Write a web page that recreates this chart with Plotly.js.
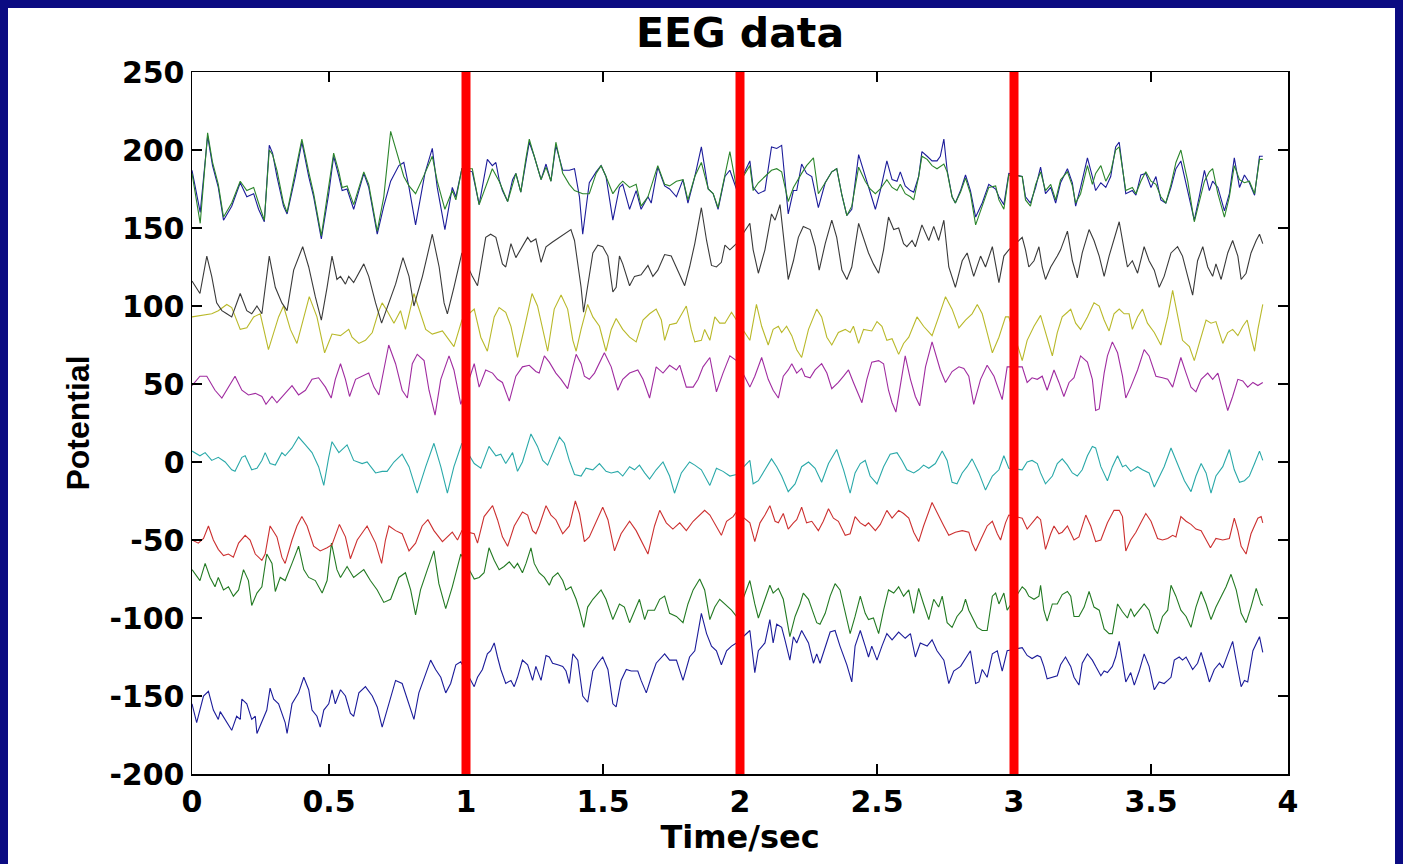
<!DOCTYPE html>
<html>
<head>
<meta charset="utf-8">
<script src="https://cdn.plot.ly/plotly-3.0.1.min.js"></script>
<style>
  html, body { margin:0; padding:0; background:#0b0b82; width:1403px; height:864px; overflow:hidden; }
  #chart { position:absolute; left:8px; top:8px; width:1387px; height:856px; background:#ffffff; }
</style>
</head>
<body>
<div id="chart"></div>
<script>
// ---- data: [time (s), potential] per channel ----
const ch1 = [[0,-155],[0.017,-167],[0.042,-150],[0.06,-147],[0.078,-159],[0.096,-165],[0.103,-160],[0.121,-165],[0.145,-172],[0.163,-163],[0.176,-165],[0.182,-152],[0.2,-155],[0.218,-165],[0.231,-163],[0.237,-174],[0.255,-167],[0.273,-159],[0.285,-145],[0.298,-152],[0.316,-155],[0.34,-167],[0.347,-174],[0.365,-155],[0.389,-148],[0.408,-138],[0.426,-146],[0.438,-159],[0.456,-163],[0.468,-170],[0.481,-159],[0.499,-155],[0.511,-146],[0.523,-155],[0.542,-146],[0.56,-150],[0.578,-161],[0.59,-163],[0.609,-148],[0.633,-144],[0.658,-150],[0.676,-157],[0.694,-170],[0.712,-159],[0.743,-140],[0.767,-142],[0.792,-155],[0.81,-165],[0.828,-148],[0.853,-135],[0.871,-127],[0.889,-133],[0.908,-138],[0.926,-148],[0.944,-142],[0.963,-130],[0.981,-128],
[1.03,-144],[1.042,-138],[1.06,-133],[1.078,-123],[1.09,-121],[1.103,-116],[1.115,-125],[1.127,-133],[1.145,-142],[1.164,-140],[1.176,-144],[1.188,-138],[1.206,-127],[1.225,-130],[1.243,-140],[1.255,-131],[1.274,-140],[1.292,-124],[1.304,-125],[1.316,-129],[1.335,-130],[1.353,-131],[1.365,-134],[1.377,-142],[1.39,-123],[1.408,-127],[1.426,-150],[1.444,-154],[1.463,-134],[1.481,-129],[1.499,-125],[1.518,-133],[1.536,-155],[1.548,-157],[1.566,-140],[1.585,-133],[1.603,-134],[1.627,-134],[1.639,-140],[1.658,-148],[1.676,-138],[1.694,-129],[1.725,-123],[1.743,-127],[1.768,-127],[1.792,-140],[1.816,-125],[1.835,-121],[1.859,-97],[1.878,-110],[1.896,-118],[1.914,-121],[1.932,-130],[1.951,-121],[1.969,-118],[1.987,-116],
[2.036,-108],[2.054,-135],[2.067,-121],[2.091,-116],[2.109,-101],[2.121,-116],[2.134,-104],[2.152,-106],[2.164,-114],[2.182,-127],[2.195,-112],[2.207,-116],[2.225,-108],[2.25,-116],[2.268,-129],[2.28,-123],[2.292,-129],[2.311,-118],[2.329,-109],[2.347,-108],[2.365,-118],[2.39,-130],[2.408,-141],[2.42,-118],[2.439,-108],[2.457,-118],[2.469,-125],[2.481,-118],[2.5,-127],[2.518,-118],[2.536,-110],[2.555,-114],[2.579,-109],[2.603,-113],[2.622,-110],[2.64,-125],[2.658,-116],[2.683,-118],[2.701,-114],[2.719,-121],[2.744,-127],[2.762,-142],[2.78,-134],[2.805,-131],[2.823,-126],[2.841,-121],[2.86,-142],[2.872,-141],[2.884,-133],[2.902,-138],[2.921,-123],[2.939,-121],[2.957,-134],[2.975,-121],
[3.03,-119],[3.048,-124],[3.066,-126],[3.085,-124],[3.097,-125],[3.109,-131],[3.121,-139],[3.14,-138],[3.158,-137],[3.17,-130],[3.188,-125],[3.207,-131],[3.219,-138],[3.237,-143],[3.249,-129],[3.268,-123],[3.286,-127],[3.298,-131],[3.317,-137],[3.329,-134],[3.341,-135],[3.359,-131],[3.371,-125],[3.384,-115],[3.396,-129],[3.408,-141],[3.426,-135],[3.439,-143],[3.457,-134],[3.475,-123],[3.493,-131],[3.512,-146],[3.53,-141],[3.548,-142],[3.561,-140],[3.573,-138],[3.585,-127],[3.603,-125],[3.615,-127],[3.628,-125],[3.64,-129],[3.652,-133],[3.67,-129],[3.683,-122],[3.701,-133],[3.713,-141],[3.731,-133],[3.75,-129],[3.762,-132],[3.78,-123],[3.798,-115],[3.817,-133],[3.829,-144],[3.841,-140],[3.853,-141],[3.872,-121],[3.884,-117],[3.896,-112],[3.908,-122]];

const ch2 = [[0,-69],[0.029,-76],[0.048,-65],[0.066,-74],[0.084,-80],[0.096,-74],[0.115,-82],[0.133,-80],[0.151,-86],[0.17,-82],[0.188,-69],[0.206,-76],[0.218,-92],[0.237,-84],[0.255,-80],[0.273,-59],[0.292,-65],[0.304,-83],[0.322,-74],[0.34,-76],[0.365,-65],[0.389,-54],[0.408,-69],[0.426,-74],[0.45,-76],[0.475,-84],[0.493,-76],[0.509,-52],[0.529,-69],[0.542,-74],[0.566,-67],[0.59,-74],[0.627,-69],[0.651,-76],[0.676,-82],[0.7,-90],[0.725,-88],[0.737,-82],[0.755,-74],[0.779,-71],[0.798,-82],[0.816,-98],[0.834,-82],[0.859,-69],[0.883,-57],[0.901,-78],[0.926,-94],[0.95,-80],[0.981,-59],
[1.03,-75],[1.048,-74],[1.066,-71],[1.084,-55],[1.103,-63],[1.121,-69],[1.139,-67],[1.158,-64],[1.176,-68],[1.188,-65],[1.206,-71],[1.219,-65],[1.237,-55],[1.249,-65],[1.267,-71],[1.286,-74],[1.304,-79],[1.316,-74],[1.335,-71],[1.353,-76],[1.365,-82],[1.383,-80],[1.402,-88],[1.414,-95],[1.43,-106],[1.444,-93],[1.463,-88],[1.481,-84],[1.493,-82],[1.511,-88],[1.536,-101],[1.56,-91],[1.578,-93],[1.597,-103],[1.615,-95],[1.633,-88],[1.652,-101],[1.664,-95],[1.688,-95],[1.707,-88],[1.725,-86],[1.743,-97],[1.768,-99],[1.792,-103],[1.81,-91],[1.829,-82],[1.853,-75],[1.871,-82],[1.89,-101],[1.908,-93],[1.926,-88],[1.951,-92],[1.969,-95],[1.987,-99],
[2.036,-76],[2.054,-91],[2.067,-100],[2.085,-91],[2.109,-79],[2.121,-84],[2.14,-81],[2.158,-88],[2.17,-99],[2.182,-112],[2.201,-99],[2.219,-91],[2.231,-84],[2.25,-88],[2.268,-97],[2.28,-103],[2.292,-104],[2.311,-97],[2.329,-86],[2.347,-78],[2.365,-82],[2.384,-97],[2.402,-110],[2.42,-99],[2.439,-86],[2.457,-97],[2.469,-101],[2.487,-100],[2.506,-110],[2.524,-95],[2.542,-82],[2.561,-84],[2.579,-80],[2.597,-86],[2.616,-82],[2.634,-97],[2.652,-81],[2.67,-91],[2.689,-101],[2.707,-88],[2.725,-93],[2.738,-86],[2.756,-103],[2.774,-106],[2.792,-99],[2.811,-95],[2.823,-88],[2.835,-95],[2.847,-99],[2.866,-106],[2.884,-108],[2.902,-108],[2.921,-86],[2.933,-84],[2.945,-91],[2.963,-84],[2.975,-95],
[3.03,-80],[3.042,-82],[3.054,-86],[3.073,-88],[3.091,-86],[3.097,-79],[3.109,-95],[3.121,-102],[3.14,-91],[3.158,-91],[3.176,-85],[3.195,-83],[3.207,-86],[3.219,-99],[3.237,-99],[3.256,-93],[3.274,-83],[3.292,-93],[3.311,-95],[3.329,-107],[3.347,-110],[3.359,-110],[3.378,-91],[3.396,-96],[3.414,-100],[3.426,-94],[3.439,-99],[3.457,-95],[3.475,-91],[3.493,-95],[3.512,-107],[3.524,-110],[3.542,-99],[3.561,-95],[3.573,-79],[3.591,-86],[3.609,-95],[3.628,-99],[3.646,-106],[3.664,-93],[3.683,-83],[3.701,-91],[3.719,-101],[3.737,-93],[3.756,-86],[3.774,-80],[3.792,-72],[3.811,-82],[3.829,-97],[3.847,-103],[3.865,-93],[3.884,-81],[3.902,-91],[3.908,-92]];

const ch3 = [[0,-50],[0.023,-52],[0.042,-49],[0.06,-41],[0.078,-50],[0.096,-56],[0.115,-60],[0.133,-59],[0.151,-61],[0.17,-52],[0.194,-47],[0.212,-50],[0.231,-59],[0.255,-63],[0.267,-59],[0.285,-41],[0.31,-48],[0.328,-61],[0.34,-65],[0.365,-50],[0.383,-41],[0.401,-35],[0.42,-41],[0.444,-54],[0.468,-57],[0.493,-55],[0.511,-53],[0.538,-40],[0.56,-48],[0.578,-62],[0.603,-50],[0.639,-41],[0.67,-52],[0.692,-65],[0.706,-50],[0.719,-41],[0.743,-44],[0.767,-46],[0.792,-57],[0.816,-52],[0.84,-41],[0.861,-37],[0.883,-44],[0.914,-51],[0.95,-45],[0.969,-50],[0.985,-44],
[1.03,-46],[1.042,-52],[1.066,-35],[1.097,-28],[1.115,-37],[1.133,-48],[1.152,-54],[1.176,-41],[1.206,-32],[1.225,-34],[1.243,-44],[1.255,-46],[1.267,-41],[1.292,-28],[1.31,-34],[1.328,-37],[1.353,-46],[1.377,-41],[1.399,-25],[1.414,-33],[1.432,-51],[1.45,-48],[1.469,-41],[1.499,-29],[1.518,-37],[1.542,-57],[1.566,-46],[1.597,-38],[1.621,-44],[1.639,-50],[1.664,-59],[1.688,-41],[1.707,-31],[1.731,-39],[1.755,-43],[1.78,-39],[1.804,-44],[1.829,-38],[1.853,-34],[1.871,-31],[1.89,-34],[1.914,-41],[1.932,-47],[1.951,-38],[1.975,-35],[1.987,-32],
[2.036,-39],[2.054,-51],[2.073,-39],[2.091,-34],[2.109,-28],[2.128,-38],[2.14,-39],[2.158,-33],[2.176,-43],[2.195,-39],[2.207,-37],[2.225,-29],[2.243,-39],[2.262,-38],[2.286,-44],[2.304,-38],[2.323,-30],[2.341,-36],[2.359,-38],[2.384,-47],[2.402,-46],[2.42,-35],[2.439,-39],[2.457,-41],[2.469,-39],[2.494,-44],[2.512,-40],[2.536,-31],[2.555,-36],[2.579,-31],[2.597,-33],[2.616,-36],[2.634,-45],[2.652,-51],[2.67,-41],[2.701,-26],[2.725,-35],[2.744,-41],[2.762,-47],[2.786,-45],[2.811,-44],[2.835,-45],[2.847,-52],[2.86,-57],[2.878,-50],[2.902,-41],[2.921,-38],[2.939,-46],[2.951,-50],[2.969,-39],[2.981,-34],
[3.03,-36],[3.048,-43],[3.066,-39],[3.085,-35],[3.097,-37],[3.115,-56],[3.134,-46],[3.146,-41],[3.164,-46],[3.176,-45],[3.195,-41],[3.219,-50],[3.237,-48],[3.262,-34],[3.28,-41],[3.298,-51],[3.317,-50],[3.341,-39],[3.365,-31],[3.384,-31],[3.396,-35],[3.408,-57],[3.426,-50],[3.445,-45],[3.463,-39],[3.481,-33],[3.5,-38],[3.524,-49],[3.542,-50],[3.561,-49],[3.579,-47],[3.591,-48],[3.609,-35],[3.628,-38],[3.646,-40],[3.664,-43],[3.683,-44],[3.701,-50],[3.717,-55],[3.737,-49],[3.762,-50],[3.786,-49],[3.804,-36],[3.817,-44],[3.829,-54],[3.847,-59],[3.865,-46],[3.89,-36],[3.902,-35],[3.908,-39]];

const ch4 = [[0,7],[0.029,4],[0.048,6],[0.072,1],[0.096,3],[0.121,0],[0.145,-5],[0.157,-6],[0.182,3],[0.194,4],[0.218,-5],[0.237,-4],[0.255,1],[0.267,6],[0.285,-1],[0.304,-2],[0.328,6],[0.34,4],[0.365,9],[0.389,16],[0.414,11],[0.438,6],[0.462,-3],[0.481,-15],[0.499,3],[0.511,13],[0.536,6],[0.566,11],[0.59,1],[0.621,-1],[0.639,0],[0.67,-7],[0.694,-6],[0.712,-6],[0.737,0],[0.767,5],[0.792,-3],[0.822,-20],[0.853,-3],[0.883,12],[0.908,-3],[0.932,-20],[0.956,-3],[0.985,12],
[1.03,-1],[1.054,-4],[1.084,10],[1.109,4],[1.127,5],[1.145,-1],[1.17,6],[1.188,-6],[1.206,0],[1.237,18],[1.261,10],[1.28,1],[1.298,-2],[1.322,8],[1.341,16],[1.359,12],[1.377,1],[1.396,-8],[1.42,-9],[1.438,-4],[1.463,-5],[1.487,-1],[1.511,-6],[1.53,-7],[1.554,-6],[1.572,-9],[1.597,-3],[1.615,-5],[1.633,-2],[1.652,-7],[1.67,-11],[1.694,-5],[1.719,0],[1.743,-9],[1.761,-20],[1.786,-7],[1.816,0],[1.835,-2],[1.859,-5],[1.89,-15],[1.914,-4],[1.938,-6],[1.963,-9],[1.987,-8],
[2.036,1],[2.048,-14],[2.067,-12],[2.091,-5],[2.115,2],[2.134,-3],[2.152,-9],[2.176,-19],[2.201,-14],[2.225,-3],[2.25,0],[2.274,-4],[2.298,-13],[2.323,-1],[2.353,8],[2.378,-5],[2.402,-20],[2.42,-7],[2.439,-1],[2.457,1],[2.475,-9],[2.5,-14],[2.524,-3],[2.548,5],[2.573,6],[2.591,1],[2.609,-5],[2.634,-7],[2.652,-5],[2.67,-2],[2.689,-4],[2.713,-1],[2.738,7],[2.756,1],[2.774,-13],[2.792,-14],[2.811,-7],[2.829,-3],[2.847,2],[2.872,-7],[2.896,-18],[2.921,-9],[2.945,-5],[2.963,4],[2.981,-4],
[3.03,-5],[3.048,0],[3.066,1],[3.085,-1],[3.097,-7],[3.115,-14],[3.14,-9],[3.158,-1],[3.176,2],[3.195,-2],[3.213,-7],[3.231,-9],[3.249,-5],[3.268,4],[3.286,10],[3.298,9],[3.317,-3],[3.341,-12],[3.359,-3],[3.378,4],[3.396,-3],[3.408,-2],[3.426,-6],[3.451,-3],[3.469,-5],[3.493,-7],[3.512,-16],[3.53,-9],[3.548,-3],[3.573,9],[3.597,-1],[3.622,-12],[3.646,-19],[3.664,-9],[3.683,-1],[3.701,-7],[3.719,-20],[3.737,-9],[3.762,-3],[3.786,8],[3.804,-5],[3.823,-13],[3.841,-12],[3.859,-9],[3.878,-1],[3.896,7],[3.908,1]];

const ch5 = [[0,49],[0.029,55],[0.054,55],[0.084,46],[0.109,41],[0.133,48],[0.157,55],[0.182,46],[0.206,43],[0.231,44],[0.255,42],[0.27,37],[0.292,42],[0.31,38],[0.34,44],[0.365,49],[0.389,43],[0.414,46],[0.438,53],[0.462,54],[0.487,48],[0.508,41],[0.523,53],[0.542,63],[0.56,53],[0.575,42],[0.597,53],[0.621,55],[0.645,57],[0.664,48],[0.682,43],[0.718,75],[0.743,63],[0.767,46],[0.786,41],[0.804,63],[0.822,69],[0.847,65],[0.865,46],[0.887,30],[0.908,53],[0.938,68],[0.956,59],[0.981,37],
[1.03,63],[1.048,48],[1.072,59],[1.097,57],[1.115,53],[1.133,51],[1.158,39],[1.182,55],[1.206,61],[1.231,62],[1.255,58],[1.267,57],[1.286,68],[1.304,64],[1.328,57],[1.347,53],[1.371,47],[1.39,61],[1.402,69],[1.42,63],[1.432,55],[1.45,53],[1.469,57],[1.505,70],[1.53,61],[1.554,46],[1.572,53],[1.597,57],[1.627,59],[1.646,53],[1.67,41],[1.694,61],[1.719,57],[1.743,62],[1.768,59],[1.78,62],[1.804,48],[1.829,48],[1.847,53],[1.865,61],[1.89,67],[1.914,45],[1.938,57],[1.963,68],[1.987,65],
[2.036,48],[2.054,55],[2.079,67],[2.103,53],[2.121,46],[2.14,41],[2.158,55],[2.176,59],[2.189,63],[2.207,57],[2.225,60],[2.237,55],[2.256,54],[2.274,59],[2.298,63],[2.317,57],[2.335,47],[2.359,51],[2.378,55],[2.396,59],[2.414,51],[2.445,38],[2.463,53],[2.481,64],[2.506,65],[2.524,63],[2.542,46],[2.555,38],[2.569,32],[2.585,48],[2.603,68],[2.622,53],[2.64,42],[2.656,36],[2.677,61],[2.701,77],[2.719,67],[2.731,59],[2.75,51],[2.774,58],[2.799,61],[2.817,60],[2.835,55],[2.853,37],[2.878,53],[2.902,62],[2.927,55],[2.945,46],[2.957,40],[2.975,61],
[3.03,61],[3.048,51],[3.066,54],[3.085,53],[3.103,55],[3.121,46],[3.146,59],[3.164,51],[3.182,42],[3.201,51],[3.219,54],[3.243,68],[3.268,64],[3.286,53],[3.298,33],[3.311,34],[3.329,57],[3.341,68],[3.359,77],[3.378,70],[3.396,55],[3.408,41],[3.426,48],[3.451,59],[3.475,72],[3.493,68],[3.518,55],[3.542,54],[3.561,53],[3.579,48],[3.591,55],[3.609,67],[3.628,57],[3.646,48],[3.664,45],[3.683,53],[3.707,57],[3.725,53],[3.744,57],[3.762,44],[3.78,33],[3.798,42],[3.817,53],[3.835,52],[3.853,48],[3.872,51],[3.89,49],[3.908,51]];

const ch6 = [[0,93],[0.047,94],[0.072,95],[0.096,97],[0.127,101],[0.145,99],[0.176,85],[0.2,86],[0.225,93],[0.249,95],[0.279,72],[0.316,93],[0.334,100],[0.359,85],[0.383,76],[0.428,106],[0.456,93],[0.484,70],[0.511,82],[0.542,81],[0.572,85],[0.584,80],[0.609,76],[0.633,78],[0.658,83],[0.682,97],[0.694,102],[0.712,97],[0.737,89],[0.761,97],[0.779,85],[0.81,108],[0.853,85],[0.877,82],[0.914,84],[0.956,74],[0.985,91],
[1.03,98],[1.054,80],[1.078,71],[1.103,93],[1.121,99],[1.145,96],[1.164,87],[1.188,67],[1.212,85],[1.241,108],[1.261,100],[1.28,85],[1.298,71],[1.322,98],[1.347,107],[1.371,98],[1.39,78],[1.402,71],[1.42,85],[1.444,101],[1.463,93],[1.487,87],[1.511,71],[1.53,85],[1.548,92],[1.572,85],[1.597,80],[1.621,77],[1.646,91],[1.67,95],[1.694,98],[1.713,91],[1.725,78],[1.743,88],[1.768,89],[1.804,100],[1.822,85],[1.835,77],[1.859,78],[1.871,85],[1.89,78],[1.908,93],[1.926,89],[1.945,89],[1.969,96],[1.987,91],
[2.036,78],[2.06,101],[2.079,87],[2.103,75],[2.121,85],[2.14,87],[2.152,83],[2.17,87],[2.189,81],[2.207,72],[2.225,67],[2.25,85],[2.28,98],[2.298,93],[2.317,80],[2.335,75],[2.359,83],[2.384,85],[2.402,83],[2.414,87],[2.433,76],[2.451,85],[2.481,84],[2.5,90],[2.518,87],[2.536,78],[2.555,79],[2.579,69],[2.597,76],[2.616,80],[2.646,93],[2.67,87],[2.701,81],[2.725,93],[2.75,106],[2.774,98],[2.799,86],[2.823,91],[2.847,95],[2.866,101],[2.884,95],[2.902,83],[2.921,70],[2.945,80],[2.969,93],[2.981,93],
[3.03,65],[3.048,78],[3.073,87],[3.097,94],[3.121,80],[3.14,68],[3.158,83],[3.176,93],[3.195,96],[3.207,98],[3.225,89],[3.243,85],[3.268,93],[3.292,102],[3.311,100],[3.329,91],[3.347,84],[3.365,95],[3.384,98],[3.402,95],[3.42,95],[3.432,85],[3.451,93],[3.469,98],[3.487,89],[3.512,83],[3.536,75],[3.561,93],[3.579,110],[3.597,93],[3.615,78],[3.64,74],[3.658,65],[3.676,76],[3.701,91],[3.719,89],[3.737,90],[3.762,76],[3.78,83],[3.798,85],[3.817,81],[3.835,87],[3.851,91],[3.865,80],[3.878,71],[3.89,85],[3.908,101]];

const ch7 = [[0,116],[0.029,108],[0.054,132],[0.072,119],[0.09,102],[0.109,97],[0.127,95],[0.145,93],[0.176,108],[0.2,97],[0.218,95],[0.237,100],[0.255,95],[0.282,132],[0.304,112],[0.328,102],[0.347,97],[0.371,123],[0.404,138],[0.426,125],[0.45,106],[0.472,91],[0.493,112],[0.511,132],[0.529,117],[0.542,119],[0.56,114],[0.572,119],[0.59,115],[0.627,127],[0.645,119],[0.67,102],[0.692,89],[0.719,102],[0.743,114],[0.77,131],[0.792,119],[0.81,100],[0.841,119],[0.877,146],[0.902,125],[0.92,102],[0.932,95],[0.956,112],[0.985,134],
[1.023,119],[1.042,113],[1.072,144],[1.09,146],[1.109,144],[1.133,127],[1.145,125],[1.164,140],[1.182,131],[1.206,138],[1.225,144],[1.237,141],[1.255,143],[1.274,128],[1.292,138],[1.316,141],[1.341,144],[1.365,147],[1.383,149],[1.396,142],[1.408,127],[1.42,112],[1.429,96],[1.444,114],[1.463,134],[1.481,139],[1.499,138],[1.518,132],[1.536,109],[1.548,112],[1.56,132],[1.572,127],[1.597,113],[1.615,119],[1.639,120],[1.664,126],[1.682,119],[1.7,123],[1.725,133],[1.749,132],[1.768,125],[1.798,113],[1.816,125],[1.835,140],[1.859,163],[1.878,142],[1.896,126],[1.914,125],[1.932,128],[1.945,139],[1.963,136],[1.987,140],
[2.036,153],[2.048,136],[2.067,121],[2.091,136],[2.115,159],[2.128,155],[2.146,165],[2.158,144],[2.176,117],[2.195,129],[2.213,144],[2.231,151],[2.256,149],[2.274,138],[2.289,123],[2.311,140],[2.335,155],[2.353,144],[2.372,123],[2.39,117],[2.408,125],[2.433,153],[2.451,144],[2.469,134],[2.487,127],[2.506,121],[2.524,136],[2.542,157],[2.561,149],[2.579,150],[2.597,140],[2.609,138],[2.628,142],[2.64,138],[2.664,152],[2.689,142],[2.707,151],[2.725,142],[2.744,155],[2.762,125],[2.786,112],[2.811,129],[2.829,134],[2.853,119],[2.878,132],[2.896,125],[2.921,138],[2.945,115],[2.963,132],[2.981,136],
[3.03,144],[3.042,136],[3.054,125],[3.073,129],[3.091,138],[3.103,125],[3.115,117],[3.134,125],[3.158,132],[3.17,136],[3.195,148],[3.213,129],[3.231,118],[3.249,134],[3.274,149],[3.292,142],[3.311,132],[3.329,119],[3.347,132],[3.371,147],[3.384,154],[3.402,136],[3.414,125],[3.432,129],[3.451,121],[3.475,138],[3.493,129],[3.512,123],[3.53,112],[3.548,119],[3.573,134],[3.597,138],[3.615,132],[3.634,119],[3.652,107],[3.67,129],[3.689,138],[3.707,125],[3.725,119],[3.737,127],[3.756,117],[3.78,134],[3.798,142],[3.817,132],[3.829,117],[3.847,121],[3.865,134],[3.884,142],[3.896,146],[3.908,140]];

const ch8 = [[0,187],[0.03,160],[0.057,209],[0.075,190],[0.096,176],[0.115,155],[0.145,164],[0.176,179],[0.2,170],[0.225,172],[0.243,162],[0.264,154],[0.282,203],[0.294,198],[0.31,183],[0.334,164],[0.347,159],[0.377,183],[0.401,205],[0.426,183],[0.444,170],[0.472,143],[0.499,172],[0.517,196],[0.536,183],[0.548,174],[0.566,175],[0.59,162],[0.627,185],[0.645,176],[0.676,146],[0.7,164],[0.725,180],[0.755,190],[0.773,192],[0.792,176],[0.816,152],[0.85,185],[0.877,201],[0.895,176],[0.923,149],[0.95,176],[0.963,170],[0.985,188],
[1.023,186],[1.048,165],[1.078,194],[1.096,190],[1.109,192],[1.121,181],[1.133,174],[1.152,167],[1.17,181],[1.182,185],[1.2,173],[1.219,194],[1.231,205],[1.249,196],[1.274,181],[1.292,191],[1.31,180],[1.328,203],[1.353,187],[1.377,187],[1.396,188],[1.414,170],[1.426,146],[1.45,179],[1.475,186],[1.493,190],[1.511,183],[1.536,155],[1.56,176],[1.572,178],[1.597,162],[1.621,174],[1.639,162],[1.664,170],[1.676,166],[1.7,189],[1.725,177],[1.743,175],[1.768,170],[1.792,181],[1.81,166],[1.835,183],[1.859,202],[1.884,175],[1.902,172],[1.92,162],[1.945,183],[1.963,187],[1.987,175],
[2.036,193],[2.048,176],[2.067,172],[2.091,174],[2.115,202],[2.134,201],[2.152,203],[2.176,159],[2.195,174],[2.207,174],[2.225,191],[2.243,185],[2.262,183],[2.286,163],[2.311,179],[2.335,186],[2.353,188],[2.372,171],[2.39,158],[2.408,162],[2.433,197],[2.457,183],[2.475,172],[2.494,162],[2.512,174],[2.536,193],[2.555,181],[2.573,180],[2.585,186],[2.603,177],[2.622,174],[2.634,173],[2.652,183],[2.664,199],[2.683,196],[2.701,193],[2.719,193],[2.731,196],[2.744,207],[2.756,187],[2.774,170],[2.786,166],[2.805,174],[2.823,184],[2.841,174],[2.86,157],[2.884,166],[2.908,178],[2.933,175],[2.945,170],[2.963,165],[2.981,185],
[3.03,183],[3.042,170],[3.06,166],[3.079,176],[3.097,189],[3.115,172],[3.134,176],[3.152,166],[3.17,179],[3.195,188],[3.213,179],[3.225,164],[3.243,176],[3.268,195],[3.286,183],[3.298,174],[3.317,179],[3.335,176],[3.353,183],[3.371,202],[3.384,205],[3.396,189],[3.408,172],[3.432,174],[3.445,171],[3.463,184],[3.481,185],[3.5,176],[3.518,183],[3.536,168],[3.554,166],[3.573,176],[3.591,188],[3.609,193],[3.634,174],[3.658,155],[3.676,170],[3.695,187],[3.713,174],[3.725,180],[3.744,176],[3.768,161],[3.786,172],[3.804,195],[3.823,176],[3.841,184],[3.859,179],[3.878,171],[3.896,196],[3.908,196]];

const ch9 = [[0,185],[0.03,153],[0.057,211],[0.075,192],[0.096,178],[0.115,157],[0.145,166],[0.176,180],[0.2,174],[0.225,176],[0.243,166],[0.264,155],[0.282,200],[0.294,197],[0.31,187],[0.334,166],[0.347,160],[0.377,185],[0.401,207],[0.426,186],[0.444,172],[0.472,145],[0.499,175],[0.517,198],[0.536,186],[0.548,176],[0.566,177],[0.59,165],[0.627,186],[0.645,178],[0.676,148],[0.7,170],[0.725,212],[0.755,194],[0.773,183],[0.792,177],[0.816,172],[0.85,185],[0.877,196],[0.895,180],[0.923,162],[0.95,174],[0.963,168],[0.985,188],
[1.023,188],[1.048,165],[1.078,180],[1.096,188],[1.121,180],[1.152,167],[1.182,185],[1.2,173],[1.219,195],[1.231,207],[1.249,196],[1.274,181],[1.292,189],[1.31,180],[1.328,205],[1.353,185],[1.377,178],[1.396,174],[1.426,172],[1.45,172],[1.475,185],[1.493,190],[1.511,183],[1.536,172],[1.56,178],[1.572,180],[1.597,176],[1.621,178],[1.639,164],[1.664,170],[1.7,190],[1.725,178],[1.743,177],[1.768,180],[1.792,181],[1.81,168],[1.835,183],[1.859,192],[1.884,175],[1.902,172],[1.92,163],[1.945,183],[1.963,199],[1.987,176],
[2.036,190],[2.048,174],[2.067,179],[2.091,183],[2.115,187],[2.134,188],[2.152,186],[2.176,167],[2.195,176],[2.225,185],[2.243,190],[2.268,195],[2.286,172],[2.311,179],[2.335,186],[2.353,188],[2.372,171],[2.39,158],[2.408,164],[2.433,189],[2.457,180],[2.475,175],[2.494,172],[2.512,175],[2.536,181],[2.555,176],[2.573,174],[2.585,178],[2.603,172],[2.622,170],[2.634,168],[2.652,183],[2.664,196],[2.683,194],[2.701,190],[2.719,188],[2.744,191],[2.756,186],[2.774,170],[2.786,166],[2.805,173],[2.823,182],[2.841,172],[2.86,152],[2.884,164],[2.908,176],[2.933,177],[2.945,168],[2.963,162],[2.981,184],
[3.03,183],[3.042,168],[3.06,164],[3.079,178],[3.097,186],[3.115,174],[3.134,178],[3.152,168],[3.17,181],[3.195,186],[3.213,177],[3.225,166],[3.243,172],[3.268,190],[3.286,178],[3.298,185],[3.317,190],[3.335,180],[3.353,186],[3.371,200],[3.384,202],[3.396,187],[3.408,174],[3.432,176],[3.445,172],[3.463,180],[3.481,186],[3.5,180],[3.518,178],[3.536,170],[3.554,166],[3.573,178],[3.591,192],[3.609,200],[3.634,180],[3.658,154],[3.676,166],[3.695,180],[3.713,186],[3.725,188],[3.744,172],[3.768,157],[3.786,170],[3.804,190],[3.823,181],[3.841,179],[3.859,180],[3.878,172],[3.896,194],[3.908,194]];

const channelColors = ['#1c1c9a', '#237a23', '#cc3030', '#2aa9a9', '#a02ca0', '#b9b92a', '#3a3a3a', '#1c1c9a', '#2b852b'];
const markerTimes = [1, 2, 3];
const xTickVals = [0, 0.5, 1, 1.5, 2, 2.5, 3, 3.5, 4];
const xTickText = ['0', '0.5', '1', '1.5', '2', '2.5', '3', '3.5', '4'];
const yTickVals = [-200, -150, -100, -50, 0, 50, 100, 150, 200, 250];
const yTickText = ['-200', '-150', '-100', '-50', '0', '50', '100', '150', '200', '250'];

const channels = [ch1, ch2, ch3, ch4, ch5, ch6, ch7, ch8, ch9];
const traces = channels.map((c, i) => ({
  type: 'scatter', mode: 'lines',
  x: c.map(p => p[0]), y: c.map(p => p[1]),
  line: { color: channelColors[i], width: 1.1 },
  hoverinfo: 'skip'
}));

const tickFont = { family: 'DejaVu Sans', size: 30, color: '#000000', weight: 'bold' };

const layout = {
  width: 1387, height: 856,
  paper_bgcolor: '#ffffff', plot_bgcolor: '#ffffff',
  margin: { l: 184, r: 107, t: 64, b: 90 },
  showlegend: false,
  title: {
    text: '<b>EEG data</b>',
    font: { family: 'DejaVu Sans', size: 41, color: '#000000' },
    x: 0.5, xref: 'paper', xanchor: 'center',
    y: 1 - 25 / 856, yref: 'container', yanchor: 'middle'
  },
  xaxis: {
    range: [0, 4], tickvals: xTickVals, ticktext: xTickText,
    ticks: 'inside', ticklen: 10, tickwidth: 1.5, tickcolor: '#000000',
    showline: true, linecolor: '#000000', linewidth: 1.5, mirror: 'ticks',
    showgrid: false, zeroline: false, tickfont: tickFont,
    title: { text: '<b>Time/sec</b>', font: { family: 'DejaVu Sans', size: 32, color: '#000000' }, standoff: 0 }
  },
  yaxis: {
    range: [-200, 250], tickvals: yTickVals, ticktext: yTickText,
    ticks: 'inside', ticklen: 10, tickwidth: 1.5, tickcolor: '#000000',
    showline: true, linecolor: '#000000', linewidth: 1.5, mirror: 'ticks',
    showgrid: false, zeroline: false, tickfont: tickFont,
    title: { text: '<b>Potential</b>', font: { family: 'Liberation Sans', size: 32, color: '#000000' }, standoff: 10 }
  },
  shapes: markerTimes.map(t => ({
    type: 'line', xref: 'x', yref: 'paper', x0: t, x1: t, y0: 0, y1: 1,
    line: { color: '#ff0000', width: 9 }, layer: 'above'
  }))
};

Plotly.newPlot('chart', traces, layout, { staticPlot: true, displayModeBar: false });
</script>
</body>
</html>
